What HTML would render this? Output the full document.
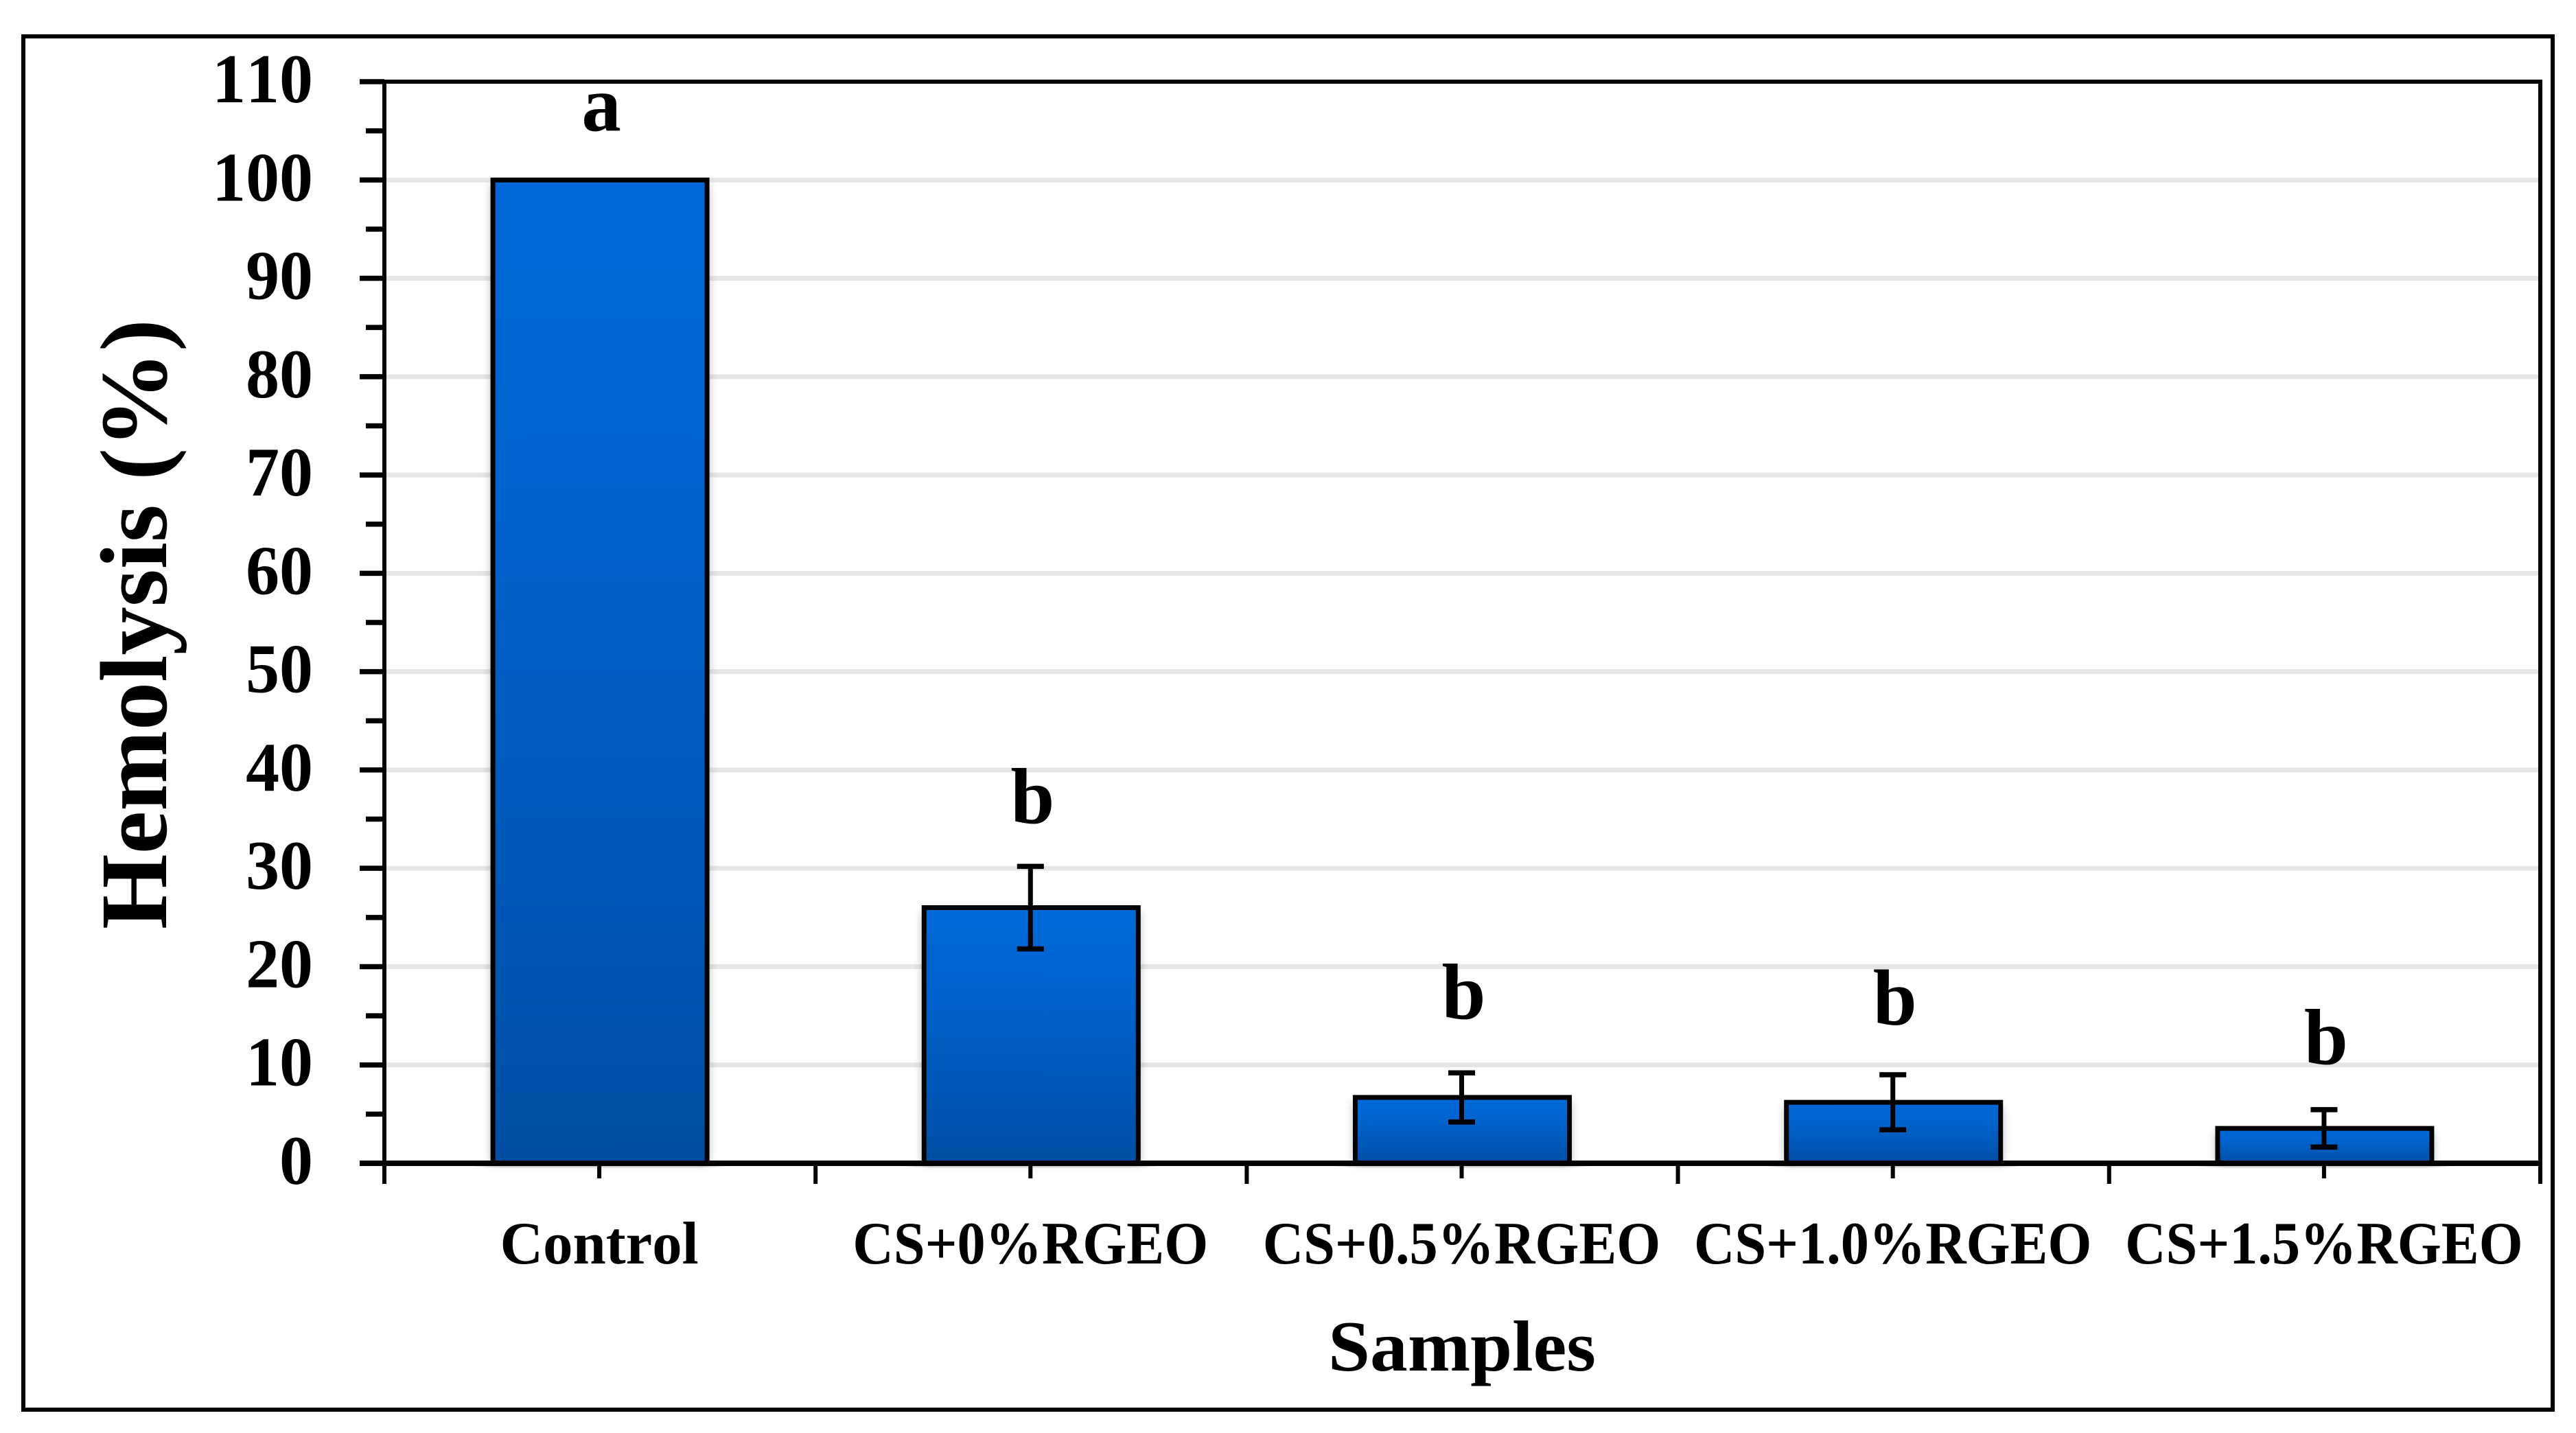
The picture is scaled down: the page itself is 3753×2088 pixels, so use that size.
<!DOCTYPE html>
<html lang="en">
<head>
<meta charset="utf-8">
<title>Hemolysis chart</title>
<style>
html,body{margin:0;padding:0;background:#fff;}
body{width:3753px;height:2088px;overflow:hidden;}
svg{display:block;}
text{font-family:"Liberation Serif",serif;font-weight:bold;fill:#000;font-kerning:none;}
</style>
</head>
<body>
<svg id="chart" xmlns="http://www.w3.org/2000/svg" width="3753" height="2088" viewBox="0 0 3753 2088">
  <defs>
    <linearGradient id="barFill" x1="0" y1="0" x2="0" y2="1">
      <stop offset="0" stop-color="#0068D8"/>
      <stop offset="0.3" stop-color="#0065D0"/>
      <stop offset="1" stop-color="#004EA4"/>
    </linearGradient>
    <linearGradient id="floorShadow" x1="0" y1="0" x2="1" y2="0">
      <stop offset="0" stop-color="#fff"/>
      <stop offset="0.1" stop-color="#cfcfcf"/>
      <stop offset="0.9" stop-color="#cfcfcf"/>
      <stop offset="1" stop-color="#fff"/>
    </linearGradient>
    <filter id="soft" x="-20%" y="-20%" width="140%" height="140%">
      <feGaussianBlur stdDeviation="7"/>
    </filter>
  </defs>
  <rect x="0" y="0" width="3753" height="2088" fill="#fff"/>
  <rect x="34" y="53" width="3685" height="2001" fill="none" stroke="#000" stroke-width="6"/>
  <g id="plot"></g>
  <text transform="translate(242,1354) rotate(-90)" font-size="139" textLength="889" lengthAdjust="spacingAndGlyphs">Hemolysis (%)</text>
  <text x="1935" y="1997" font-size="105" textLength="390" lengthAdjust="spacingAndGlyphs">Samples</text>
</svg>
<script>
const categories = ["Control", "CS+0%RGEO", "CS+0.5%RGEO", "CS+1.0%RGEO", "CS+1.5%RGEO"];
const hemolysisValues = [100, 26, 6.7, 6.2, 3.55];
const errorValues = [0, 4.2, 2.5, 2.8, 1.9];
const significanceLetters = ["a", "b", "b", "b", "b"];
const letterLevels = [105, 34.6, 14.7, 14.1, 10.1];
const yTickLabels = [0, 10, 20, 30, 40, 50, 60, 70, 80, 90, 100, 110];

const NS = "http://www.w3.org/2000/svg";
const plot = document.getElementById("plot");

const axisLeft = 560, axisRight = 3701;
const axisBottom = 1695, axisTop = 119;
const yMax = 110;
const bandWidth = (axisRight - axisLeft) / categories.length;
const barWidth = 312;

function yScale(v) { return axisBottom - (v / yMax) * (axisBottom - axisTop); }
function xScale(i) { return axisLeft + bandWidth * (i + 0.5); }

function make(tag, attrs, parent) {
  const node = document.createElementNS(NS, tag);
  for (const k in attrs) node.setAttribute(k, attrs[k]);
  (parent || plot).appendChild(node);
  return node;
}

function lineAttrs(x1, y1, x2, y2, width, color) {
  return { x1: x1, y1: y1, x2: x2, y2: y2, stroke: color || "#000", "stroke-width": width };
}

/* gridlines */
yTickLabels.forEach(function (v) {
  if (v === 0 || v === yMax) return;
  const grid = make("line", lineAttrs(axisLeft, yScale(v), axisRight, yScale(v), 7, "#e6e6e6"));
  
  
});

/* bar shadows */
categories.forEach(function (c, i) {
  const top = yScale(hemolysisValues[i]);
  const shadow = make("rect", {
    x: xScale(i) - barWidth / 2 - 2, y: top + 6,
    width: barWidth + 4, height: axisBottom - top - 6,
    fill: "#000", opacity: 0.3, filter: "url(#soft)"
  });
  
  
  const floor = make("rect", {
    x: xScale(i) - barWidth / 2 - 32, y: axisBottom + 3,
    width: barWidth + 64, height: 3, fill: "url(#floorShadow)"
  });
  
  
});

/* bars */
categories.forEach(function (c, i) {
  const top = yScale(hemolysisValues[i]);
  const bar = make("rect", {
    x: xScale(i) - barWidth / 2, y: top,
    width: barWidth, height: axisBottom - top,
    fill: "url(#barFill)", stroke: "#000", "stroke-width": 7
  });
  
  
});

/* error bars */
errorValues.forEach(function (e, i) {
  if (!e) return;
  const hi = yScale(hemolysisValues[i] + e);
  const lo = yScale(hemolysisValues[i] - e);
  const cx = xScale(i) - 1;
  const stem = make("line", lineAttrs(cx, hi, cx, lo, 7));
  
  
  const capTop = make("line", lineAttrs(cx - 19.5, hi, cx + 19.5, hi, 7.5));
  
  
  const capLow = make("line", lineAttrs(cx - 19.5, lo, cx + 19.5, lo, 7.5));
  
  
});

/* axes */
const leftAxis = make("line", lineAttrs(axisLeft, axisTop, axisLeft, 1725, 6));


const rightAxis = make("line", lineAttrs(axisRight, axisTop, axisRight, 1725, 6));


const topAxis = make("line", lineAttrs(524, axisTop, axisRight + 3, axisTop, 6));


const bottomAxis = make("line", lineAttrs(524, axisBottom, axisRight + 3, axisBottom, 8));



/* y ticks and labels */
yTickLabels.forEach(function (v) {
  const tick = make("line", lineAttrs(524, yScale(v), axisLeft, yScale(v), 7.5));
  
  
  if (v < yMax) {
    const minor = make("line", lineAttrs(533, yScale(v + 5), axisLeft, yScale(v + 5), 7.5));
    
    
  }
  const label = make("text", { x: 456, y: yScale(v) + 30, "font-size": 102, "text-anchor": "end" });
  label.textContent = v;
  
  
  label.setAttribute("textLength", label.getComputedTextLength() * 0.96);
  label.setAttribute("lengthAdjust", "spacingAndGlyphs");
});

/* x ticks */
for (let i = 1; i < categories.length; i++) {
  const bx = axisLeft + bandWidth * i;
  const tick = make("line", lineAttrs(bx, axisBottom, bx, 1725, 6));
  
  
}

/* category ticks, labels and significance letters */
categories.forEach(function (c, i) {
  const tick = make("line", lineAttrs(xScale(i) - 1, axisBottom, xScale(i) - 1, 1717, 6));
  
  

  const label = make("text", { x: xScale(i) - 1, y: 1841, "font-size": 88, "text-anchor": "middle" });
  label.textContent = c;
  
  
  const squeeze = /[A-Z]{2}/.test(c) ? 0.935 : 0.986;
  label.setAttribute("textLength", label.getComputedTextLength() * squeeze);
  label.setAttribute("lengthAdjust", "spacingAndGlyphs");

  const letter = make("text", { x: xScale(i) + 2, y: yScale(letterLevels[i]), "font-size": 115, "text-anchor": "middle" });
  letter.textContent = significanceLetters[i];
  
  
});
</script>
</body>
</html>
